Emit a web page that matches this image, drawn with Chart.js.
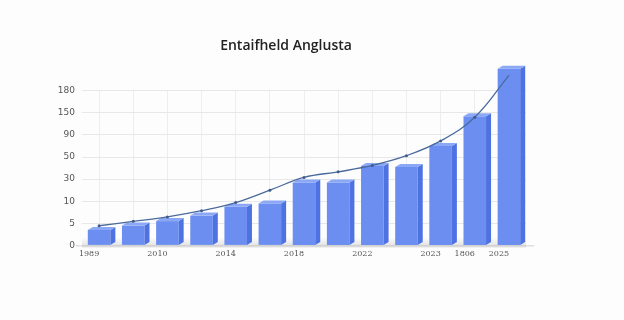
<!DOCTYPE html>
<html>
<head>
<meta charset="utf-8">
<script src="https://cdn.jsdelivr.net/npm/chart.js@4"></script>
<style>
  html, body { margin: 0; padding: 0; background: #fdfdfd; }
  #wrap { width: 624px; height: 320px; }
</style>
</head>
<body>
<div id="wrap"><canvas id="myChart" width="624" height="320"></canvas></div>
<script>
// categories: 13 bars, only some of them carry a label
let xLabels = ["1989", "", "2010", "", "2014", "", "2018", "", "2022", "", "2023", "1806", "2025"];
// y axis runs in grid steps, the printed labels are not evenly spaced values
let yTickLabels = ["0", "5", "10", "30", "50", "90", "150", "180"];
// bar heights, in grid steps
let barValues = [0.7, 0.9, 1.1, 1.35, 1.75, 1.9, 2.85, 2.85, 3.6, 3.55, 4.5, 5.85, 8.0];
// trend line, in grid steps
let lineValues = [0.89, 1.09, 1.29, 1.57, 1.94, 2.5, 3.08, 3.33, 3.62, 4.06, 4.73, 5.8, 7.7];

// draws the side and top faces of each bar so they look like blocks
const blocks = {
    id: "blocks",
    beforeDatasetsDraw(chart) {
        const ctx = chart.ctx;
        const a = chart.chartArea;
        // soft floor shadow
        let g = ctx.createLinearGradient(0, a.bottom - 8, 0, a.bottom + 2);
        g.addColorStop(0, "rgba(150,150,150,0)");
        g.addColorStop(1, "rgba(150,150,150,0.3)");
        ctx.save();
        ctx.fillStyle = g;
        ctx.fillRect(a.left, a.bottom - 8, a.right - a.left, 10);
        // axis line running out to the left, past the zero label
        ctx.strokeStyle = "#d0d0d0";
        ctx.lineWidth = 1;
        ctx.beginPath();
        ctx.moveTo(a.left - 6, a.bottom + 0.5);
        ctx.lineTo(a.right + 8, a.bottom + 0.5);
        ctx.stroke();
        ctx.restore();
    },
    afterDatasetDraw(chart, args) {
        if (args.meta.type !== "bar") return;
        const ctx = chart.ctx;
        const dx = 5, dy = 3;
        ctx.save();
        args.meta.data.forEach(function (bar) {
            let left = bar.x - bar.width / 2;
            let right = bar.x + bar.width / 2;
            let top = bar.y;
            let bottom = bar.base;
            // side
            ctx.fillStyle = "#4e72e2";
            ctx.beginPath();
            ctx.moveTo(right, top);
            ctx.lineTo(right + dx, top - dy);
            ctx.lineTo(right + dx, bottom - dy);
            ctx.lineTo(right, bottom);
            ctx.closePath();
            ctx.fill();
            // top
            ctx.fillStyle = "#8ba8f6";
            ctx.beginPath();
            ctx.moveTo(left, top);
            ctx.lineTo(left + dx, top - dy);
            ctx.lineTo(right + dx, top - dy);
            ctx.lineTo(right, top);
            ctx.closePath();
            ctx.fill();
        });
        ctx.restore();
    }
};

const myChart = new Chart("myChart", {
    type: "bar",
    data: {
        labels: xLabels,
        datasets: [{
            type: "line",
            data: lineValues,
            borderColor: "#4b6a9c",
            borderWidth: 1.3,
            tension: 0.4,
            pointRadius: 1.5,
            pointBackgroundColor: "#3e5b8c",
            pointBorderWidth: 0,
            clip: false,
            order: 0
        }, {
            type: "bar",
            data: barValues,
            backgroundColor: "#6b8ef0",
            barPercentage: 0.66,
            categoryPercentage: 1,
            clip: false,
            order: 1
        }]
    },
    options: {
        responsive: false,
        animation: false,
        layout: { padding: { left: 46, right: 98, top: 0, bottom: 57 } },
        plugins: {
            legend: { display: false },
            tooltip: { enabled: false },
            title: {
                display: true,
                text: "Entaifheld Anglusta",
                color: "#222",
                font: { family: "Open Sans", size: 14, weight: "600" },
                padding: { top: 38, bottom: 36 }
            }
        },
        scales: {
            x: {
                offset: true,
                grid: { display: true, color: "#eeeeee", drawTicks: false, offset: false },
                border: { display: false },
                ticks: {
                    autoSkip: false,
                    maxRotation: 0,
                    padding: 4,
                    labelOffset: -10,
                    color: "#555",
                    font: { family: "DejaVu Serif", size: 8 }
                }
            },
            y: {
                min: 0,
                max: 7,
                afterBuildTicks(scale) {
                    scale.ticks = yTickLabels.map(function (t, i) { return { value: i }; });
                },
                afterFit(scale) { scale.width = 36; },
                grid: { color: "#e8e8e8", drawTicks: false },
                border: { display: false },
                ticks: {
                    padding: 7,
                    color: "#555",
                    font: { family: "DejaVu Sans", size: 9 },
                    callback: function (v) { return yTickLabels[v]; }
                }
            }
        }
    },
    plugins: [blocks]
});
</script>
</body>
</html>
